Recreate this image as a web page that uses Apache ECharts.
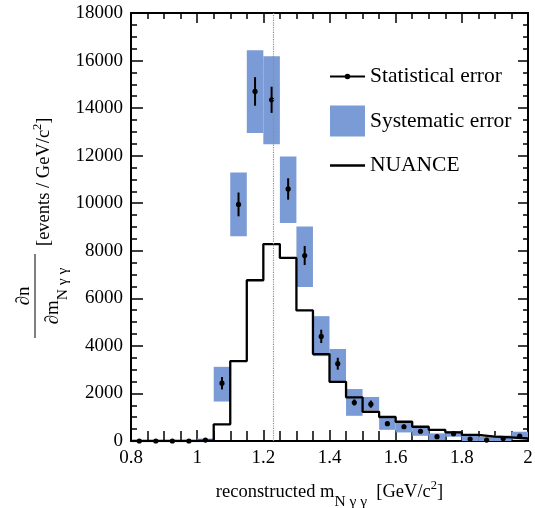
<!DOCTYPE html>
<html><head><meta charset="utf-8">
<script src="https://cdn.jsdelivr.net/npm/echarts@6/dist/echarts.min.js"></script>
<style>html,body{margin:0;padding:0;background:#fff}#c{width:535px;height:508px}</style>
</head><body><div id="c"></div>
<script>
// ---- data ----
const binEdges = [0.8,0.85,0.9,0.95,1.0,1.05,1.1,1.15,1.2,1.25,1.3,1.35,1.4,1.45,1.5,1.55,1.6,1.65,1.7,1.75,1.8,1.85,1.9,1.95,2.0];
const binCenters = [0.825,0.875,0.925,0.975,1.025,1.075,1.125,1.175,1.225,1.275,1.325,1.375,1.425,1.475,1.525,1.575,1.625,1.675,1.725,1.775,1.825,1.875,1.925,1.975];
const measured = [0,0,0,0,40,2430,9950,14700,14350,10600,7800,4400,3250,1620,1550,730,600,410,180,310,85,40,100,210];
const statErr  = [0,0,0,0,40,260,500,600,550,450,400,280,250,130,150,90,90,80,70,70,50,50,50,70];
const sysLow   = [0,0,0,0,0,1660,8610,12950,12480,9170,6480,3570,2510,1060,1300,470,360,220,40,180,0,0,0,70];
const sysHigh  = [0,0,0,0,100,3120,11290,16430,16180,11970,9020,5250,3870,2185,1850,960,780,590,320,420,250,180,230,390];
const nuance   = [0,0,0,0,20,700,3360,6760,8280,7700,5490,3655,2490,1835,1230,1010,810,600,470,365,255,185,155,105];
const deltaMass = 1.232;
const seriesNames = ['Statistical error','Systematic error','NUANCE'];

// ---- build ----
const FONT = 'Liberation Serif';
const BLUE = '#7a9bd5';
const sysData = binCenters.map((c,i)=>[binEdges[i], binEdges[i+1], sysLow[i], sysHigh[i]]);
const statData = binCenters.map((c,i)=>[c, measured[i], statErr[i]]);
const nuanceData = nuance.map((v,i)=>[binEdges[i], v]);
nuanceData.push([binEdges[binEdges.length-1], nuance[nuance.length-1]]);

const corners = 'M0,0 L0.01,0 L0,0.01 Z M35,31 L34.99,31 L35,30.99 Z ';
const statIcon = 'path://' + corners + 'M0,14.6 L14.8,14.6 L14.8,16.4 L0,16.4 Z M20.2,14.6 L35,14.6 L35,16.4 L20.2,16.4 Z M20.3,15.5 A2.8,2.8 0 1 1 14.7,15.5 A2.8,2.8 0 1 1 20.3,15.5 Z';
const nuanceIcon = 'path://' + corners + 'M0,14.3 L35,14.3 L35,16.7 L0,16.7 Z';

const richSub = {fontFamily: FONT, fontSize: 15.5, color:'#000', padding:[19,0,0,0]};
const richSup = {fontFamily: FONT, fontSize: 12.5, color:'#000', padding:[0,0,13,0]};

const chart = echarts.init(document.getElementById('c'), null, {renderer:'canvas'});
const axisLine = {show:true, onZero:false, lineStyle:{color:'#000', width:2}};
const tickLabel = {fontFamily: FONT, fontSize: 19, color:'#000', margin:8, formatter:(v)=>String(+v.toFixed(2))};

chart.setOption({
  animation: false,
  backgroundColor: '#fff',
  textStyle: {fontFamily: FONT, color:'#000'},
  grid: {left:131, right:7, top:13, bottom:67, containLabel:false, outerBoundsMode:'none'},
  legend: {
    orient:'vertical', left:325, top:56, itemWidth:35, itemHeight:31, itemGap:13.5,
    selectedMode:false,
    textStyle:{fontFamily:FONT, fontSize:21.5, color:'#000'},
    data:[
      {name:seriesNames[0], icon:statIcon, itemStyle:{color:'#000', borderWidth:0}},
      {name:seriesNames[1], icon:'rect', itemStyle:{color:BLUE, borderWidth:0}},
      {name:seriesNames[2], icon:nuanceIcon, itemStyle:{color:'#000', borderWidth:0}}
    ]
  },
  xAxis: [{
    type:'value', position:'bottom', min:0.8, max:2, interval:0.2,
    axisLine: axisLine,
    axisTick:{show:true, inside:true, length:11, lineStyle:{color:'#000', width:1.5}},
    minorTick:{show:true, splitNumber:4, length:10, lineStyle:{color:'#000', width:1.5}},
    splitLine:{show:false},
    axisLabel: tickLabel,
    name:'reconstructed m{sub|N γ γ}  [GeV/c{sup|2}]',
    nameLocation:'middle', nameGap:34,
    nameTextStyle:{fontFamily:FONT, fontSize:18.5, color:'#000', rich:{sub:richSub, sup:richSup}}
  },{
    type:'value', position:'top', min:0.8, max:2, interval:0.2,
    axisLine: axisLine,
    axisTick:{show:true, inside:true, length:10, lineStyle:{color:'#000', width:1.5}},
    minorTick:{show:true, splitNumber:4, length:6, lineStyle:{color:'#000', width:1.5}},
    splitLine:{show:false}, axisLabel:{show:false}
  }],
  yAxis: [{
    type:'value', position:'left', min:0, max:18000, interval:2000,
    axisLine: axisLine,
    axisTick:{show:true, inside:true, length:12, lineStyle:{color:'#000', width:1.5}},
    minorTick:{show:true, splitNumber:4, length:6, lineStyle:{color:'#000', width:1.5}},
    splitLine:{show:false},
    axisLabel: tickLabel
  },{
    type:'value', position:'right', min:0, max:18000, interval:2000,
    axisLine: axisLine,
    axisTick:{show:true, inside:true, length:10, lineStyle:{color:'#000', width:1.5}},
    minorTick:{show:true, splitNumber:4, length:5, lineStyle:{color:'#000', width:1.5}},
    splitLine:{show:false}, axisLabel:{show:false}
  }],
  series: [
    {
      name: seriesNames[1], type:'custom', data: sysData, clip:true, z:2,
      itemStyle:{color:BLUE},
      encode:{x:[0,1], y:[2,3]},
      renderItem:(params, api)=>{
        const lo = api.value(2), hi = api.value(3);
        if (!(hi > lo)) return null;
        const p1 = api.coord([api.value(0), hi]);
        const p2 = api.coord([api.value(1), lo]);
        return {type:'rect', shape:{x:p1[0], y:p1[1], width:p2[0]-p1[0], height:p2[1]-p1[1]}, style:{fill:BLUE}};
      }
    },
    {
      name: seriesNames[2], type:'line', data: nuanceData, step:'end', symbol:'none', z:3,
      color:'#000', lineStyle:{color:'#000', width:2.3},
      markLine:{
        silent:true, symbol:['none','none'], label:{show:false},
        lineStyle:{type:'dotted', color:'#8a8a8a', width:1.2},
        data:[{xAxis: deltaMass}]
      }
    },
    {
      name: seriesNames[0], type:'custom', data: statData, clip:false, z:4,
      itemStyle:{color:'#000'},
      encode:{x:0, y:1},
      renderItem:(params, api)=>{
        const x = api.value(0), y = api.value(1), e = api.value(2);
        const p = api.coord([x, y]);
        const children = [{type:'circle', shape:{cx:p[0], cy:p[1], r:2.6}, style:{fill:'#000'}}];
        if (e > 0) {
          const pt = api.coord([x, y + e]);
          const pb = api.coord([x, Math.max(0, y - e)]);
          children.unshift({type:'line', shape:{x1:pt[0], y1:pt[1], x2:pb[0], y2:pb[1]}, style:{stroke:'#000', lineWidth:2}});
        }
        return {type:'group', children};
      }
    }
  ],
  graphic: [
    {type:'rect', left:34.5, top:254, shape:{x:0, y:0, width:1, height:84}, style:{fill:'#000'}, silent:true},
    {
      type:'group', x:35, y:296, rotation: Math.PI/2, silent:true,
      children:[
        {type:'text', x:0, y:-1, style:{text:'∂n', fontFamily:FONT, fontSize:19, fill:'#000', align:'center', verticalAlign:'bottom'}},
        {type:'text', x:0, y:1, style:{text:'∂m{sub|N γ γ}', fontFamily:FONT, fontSize:19, fill:'#000', align:'center', verticalAlign:'top', rich:{sub:richSub}}},
        {type:'text', x:50, y:9, style:{text:'[events / GeV/c{sup|2}]', fontFamily:FONT, fontSize:18.5, fill:'#000', align:'left', verticalAlign:'middle', rich:{sup:richSup}}}
      ]
    }
  ]
});
</script>
</body></html>
